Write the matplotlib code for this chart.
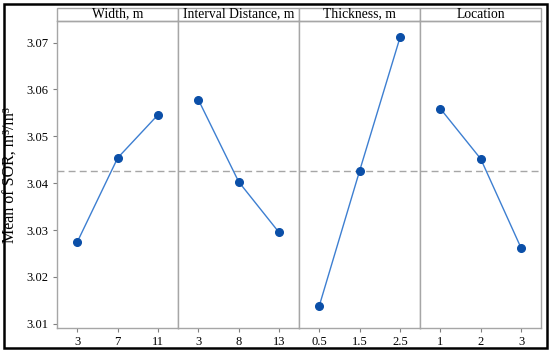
import matplotlib.pyplot as plt
from matplotlib.patches import Rectangle

plt.rcParams['font.family'] = ['Liberation Serif', 'DejaVu Serif']

# factor names and their levels
factors = ["Width, m", "Interval Distance, m", "Thickness, m", "Location"]
levels = [["3", "7", "11"], ["3", "8", "13"], ["0.5", "1.5", "2.5"], ["1", "2", "3"]]

# mean SOR per level
width_means = [3.0275, 3.0454, 3.0546]
interval_means = [3.0578, 3.0403, 3.0295]
thickness_means = [3.0139, 3.0427, 3.0711]
location_means = [3.0559, 3.0452, 3.0262]
grand_mean = 3.0425

yticks = [3.01, 3.02, 3.03, 3.04, 3.05, 3.06, 3.07]

all_means = [width_means, interval_means, thickness_means, location_means]

fig, axes = plt.subplots(1, 4, figsize=(5.5, 3.52), dpi=100, sharey=True)
fig.subplots_adjust(left=0.104, right=0.984, bottom=0.068, top=0.939, wspace=0)

for i, ax in enumerate(axes):
    xs = list(range(len(levels[i])))
    ax.plot(xs, all_means[i], color="#3d7fd1", lw=1.0, zorder=3)
    ax.plot(xs, all_means[i], "o", color="#0b4fa8", ms=5.5, zorder=4)
    ax.axhline(grand_mean, color="#a6a6a6", lw=1.0, ls=(0, (5, 3)), zorder=2)
    ax.set_xlim(-0.5, 2.5)
    ax.set_ylim(3.0091, 3.0745)
    ax.set_xticks(xs)
    ax.set_xticklabels(levels[i])
    ax.tick_params(axis="x", length=3, width=0.8, color="#808080", labelsize=9, pad=3)
    for s in ax.spines.values():
        s.set_color("#a6a6a6")
        s.set_linewidth(1.0)
    # header strip
    ax.add_patch(Rectangle((0, 1), 1, 14 / 309, transform=ax.transAxes,
                           facecolor="white", edgecolor="#a6a6a6", lw=1.0,
                           clip_on=False))
    ax.text(0.5, 1 + 7.5 / 309, factors[i], transform=ax.transAxes,
            ha="center", va="center", fontsize=9.8)
    if i > 0:
        ax.tick_params(axis="y", length=0)

axes[0].set_yticks(yticks)
axes[0].set_yticklabels([f"{v:.2f}" for v in yticks])
axes[0].tick_params(axis="y", length=3, width=0.8, color="#808080", labelsize=9, pad=3)
axes[0].set_ylabel("Mean of SOR, m³/m³", fontsize=11.5, labelpad=6)

# outer frame
fig.patches.append(Rectangle((4 / 550, 4 / 352), 543 / 550, 344 / 352,
                             transform=fig.transFigure, fill=False,
                             edgecolor="black", lw=1.8))

plt.savefig("out.png", dpi=100)
